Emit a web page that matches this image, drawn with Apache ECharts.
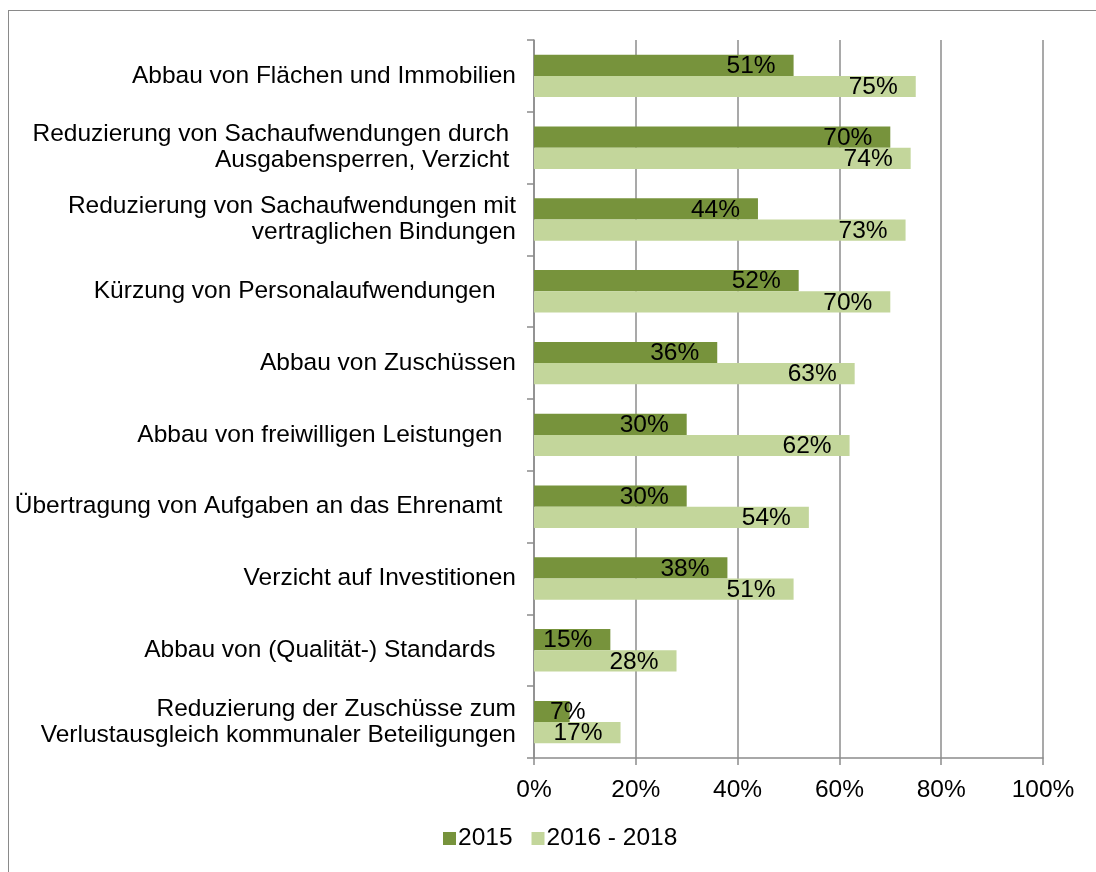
<!DOCTYPE html>
<html>
<head>
<meta charset="utf-8">
<script src="https://cdn.jsdelivr.net/npm/echarts@6/dist/echarts.min.js"></script>
<style>
  html, body { margin: 0; padding: 0; background: #fff; }
  #frame {
    position: absolute; left: 8px; top: 10px;
    width: 1200px; height: 1000px;
    border: 1.5px solid #8a8a8a;
  }
  #chart { position: absolute; left: 0; top: 0; width: 1096px; height: 872px; }
</style>
</head>
<body>
<div id="frame"></div>
<div id="chart"></div>
<script>
var categories = [
  'Abbau von Flächen und Immobilien',
  'Reduzierung von Sachaufwendungen durch \nAusgabensperren, Verzicht ',
  'Reduzierung von Sachaufwendungen mit\nvertraglichen Bindungen',
  'Kürzung von Personalaufwendungen   ',
  'Abbau von Zuschüssen',
  'Abbau von freiwilligen Leistungen  ',
  'Übertragung von Aufgaben an das Ehrenamt  ',
  'Verzicht auf Investitionen',
  'Abbau von (Qualität-) Standards   ',
  'Reduzierung der Zuschüsse zum\nVerlustausgleich kommunaler Beteiligungen'
];
var seriesNames = ['2015', '2016 - 2018'];
var values2015 = [51, 70, 44, 52, 36, 30, 30, 38, 15, 7];
var values2016 = [75, 74, 73, 70, 63, 62, 54, 51, 28, 17];

var font = '"Liberation Sans", Arial, Helvetica, sans-serif';
var fs = 24.5;

// small bars get their label placed from the left, like the original
function toItems(vals) {
  return vals.map(function (v) {
    if (v < 10) {
      return { value: v, label: { position: 'insideLeft', distance: 16 } };
    }
    return v;
  });
}

var myChart = echarts.init(document.getElementById('chart'));
var option = {
  animation: false,
  textStyle: { fontFamily: font },
  grid: { left: 534, right: 53, top: 40, bottom: 114, containLabel: false },
  legend: {
    bottom: 16,
    left: 438,
    itemWidth: 13,
    itemHeight: 13,
    itemGap: 19,
    icon: 'rect',
    textStyle: { fontSize: fs, color: '#000', fontFamily: font, padding: [0, 0, 0, -3] },
    data: seriesNames
  },
  xAxis: {
    type: 'value',
    min: 0,
    max: 100,
    interval: 20,
    axisLine: { show: true, lineStyle: { color: '#8c8c8c', width: 1.5 } },
    axisTick: { show: true, length: 7, lineStyle: { color: '#8c8c8c', width: 1.5 } },
    splitLine: { show: true, lineStyle: { color: '#8c8c8c', width: 1.5 } },
    axisLabel: { formatter: '{value}%', fontSize: fs, color: '#000', margin: 20, fontFamily: font }
  },
  yAxis: {
    type: 'category',
    inverse: true,
    data: categories,
    axisLine: { show: true, lineStyle: { color: '#8c8c8c', width: 1.5 } },
    axisTick: { show: true, length: 7, lineStyle: { color: '#8c8c8c', width: 1.5 } },
    axisLabel: { fontSize: fs, color: '#000', margin: 18, lineHeight: 26, fontFamily: font }
  },
  series: [
    {
      name: seriesNames[0],
      type: 'bar',
      data: toItems(values2015),
      barGap: '0%',
      barCategoryGap: '41%',
      itemStyle: { color: '#77933c' },
      label: { show: true, position: 'insideRight', distance: 18, formatter: '{c}%',
               fontSize: fs, color: '#000', fontFamily: font, offset: [0, 1] }
    },
    {
      name: seriesNames[1],
      type: 'bar',
      data: toItems(values2016),
      barGap: '0%',
      barCategoryGap: '41%',
      itemStyle: { color: '#c3d69b' },
      label: { show: true, position: 'insideRight', distance: 18, formatter: '{c}%',
               fontSize: fs, color: '#000', fontFamily: font, offset: [0, 1] }
    }
  ]
};
option && myChart.setOption(option);
</script>
</body>
</html>
